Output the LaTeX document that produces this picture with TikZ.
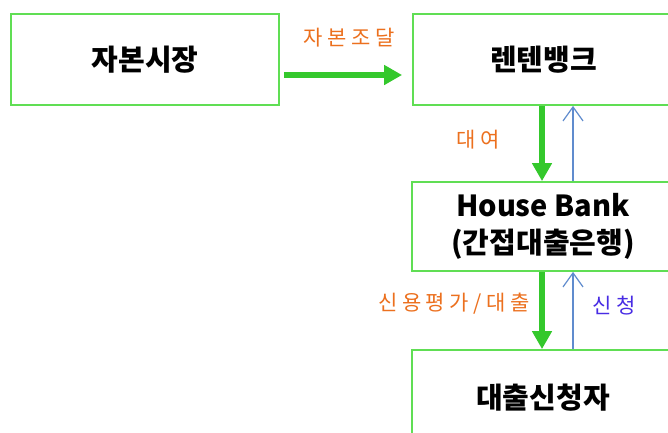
\documentclass[tikz,border=0pt]{standalone}
\usepackage{fontspec}
\setmainfont{Noto Sans CJK KR}
\newfontfamily\lblfont[LetterSpace=22]{Noto Sans CJK KR}
\usetikzlibrary{arrows.meta}
\definecolor{boxgreen}{RGB}{96,222,84}
\definecolor{arrgreen}{RGB}{52,200,44}
\definecolor{arrblue}{RGB}{96,140,206}
\definecolor{lblorange}{RGB}{236,112,30}
\definecolor{lblblue}{RGB}{72,44,228}
\tikzset{
  box/.style={draw=boxgreen, line width=1.8pt, rectangle, inner sep=0pt,
    font=\fontsize{29}{37}\selectfont\bfseries, text=black, align=center},
  garrow/.style={draw=arrgreen, line width=5.5pt,
    -{Triangle[length=18pt,width=19pt]}},
  barrow/.style={draw=arrblue, line width=1.4pt,
    -{Straight Barb[length=14pt,width=20pt,line width=1.2pt]}},
  olbl/.style={text=lblorange, font=\lblfont\fontsize{21}{24}\selectfont, inner sep=0pt},
  blbl/.style={text=lblblue, font=\lblfont\fontsize{21}{24}\selectfont, inner sep=0pt},
}
\begin{document}
\begin{tikzpicture}[x=1pt,y=-1pt]
\useasboundingbox (0,0) rectangle (668,432);
\clip (0,0) rectangle (668,432);
\fill[white] (0,0) rectangle (668,432);
\node[box, minimum width=268pt, minimum height=91pt] (cap) at (145,59.5) {자본시장};
\node[box, minimum width=261pt, minimum height=91pt] (rent) at (543.5,59.5) {렌텐뱅크};
\node[box, minimum width=262pt, minimum height=89pt] (hb) at (543,226.5) {House Bank\\(간접대출은행)};
\node[box, minimum width=262pt, minimum height=95pt] (app) at (543,397.5) {대출신청자};
\draw[garrow] ([xshift=4pt,yshift=-15.5pt]cap.east) -- ([xshift=-10pt,yshift=-15.5pt]rent.west);
\draw[garrow] ([xshift=-1.5pt]rent.south) -- ([xshift=-1pt]hb.north);
\draw[barrow] ([xshift=30pt]hb.north) -- ([xshift=29.5pt]rent.south);
\draw[garrow] ([xshift=-1pt]hb.south) -- ([xshift=-1pt]app.north);
\draw[barrow] ([xshift=30pt]app.north) -- ([xshift=30pt]hb.south);
\node[olbl] (l1) at (349,38) {자본조달};
\node[olbl] (l2) at (478,140) {대여};
\node[olbl] (l3) at (454,304) {신용평가/대출};
\node[blbl] (l4) at (614,306) {신청};
\end{tikzpicture}
\end{document}
